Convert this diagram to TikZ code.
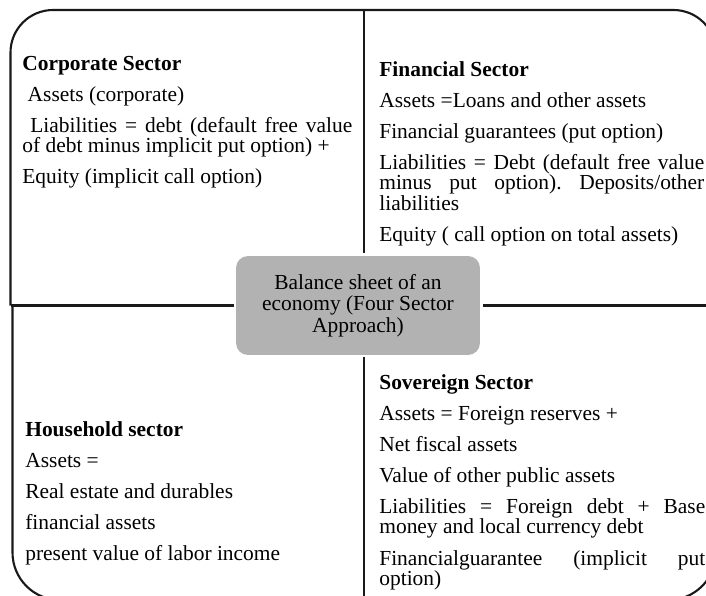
\documentclass[tikz,border=0pt]{standalone}
\usepackage{fontspec}
\setmainfont{Liberation Serif}
\usetikzlibrary{positioning,calc}
\frenchspacing

\begin{document}
\begin{tikzpicture}[x=0.02cm, y=-0.02cm,
    frameline/.style={draw=black!90, line width=1.2pt},
    sectortext/.style={anchor=base west, inner sep=0pt, text width=#1, align=justify,
        font=\fontsize{12.2}{11.7}\selectfont,
        execute at begin node={\setlength{\parskip}{6pt}}},
    hubbox/.style={fill=black!30, rounded corners=0.24cm, minimum width=4.88cm,
        minimum height=1.98cm, inner sep=0pt, align=center,
        font=\fontsize{12.2}{12.2}\selectfont}]
    \useasboundingbox (0,0) rectangle (706,595);

    % centre box
    \node[hubbox] (hub) at (358,305.5) {Balance sheet of an\\economy (Four Sector\\Approach)};

    % frame and dividers
    \coordinate (ntop) at (364,10);
    \coordinate (sbot) at (364,601);
    \coordinate (wmid) at (10.5,305.5);
    \coordinate (emid) at (716,305.5);
    \begin{scope}
        \clip (0,0) rectangle (706,595);
        \draw[frameline, rounded corners=0.85cm] (wmid) -- (10.5,10) -- (716,10) -- (emid);
        \draw[frameline, rounded corners=0.95cm] (emid) -- (716,600) -- (12.5,600) -- (12.5,305.5);
        \draw[frameline, shorten >=0.06cm] (ntop) -- (ntop |- hub.north);
        \draw[frameline, shorten >=0.03cm] (wmid) -- (hub.west);
        \draw[frameline, shorten >=0.06cm] (emid) -- (hub.east);
        \draw[frameline, shorten >=0.04cm] (sbot) -- (sbot |- hub.south);
    \end{scope}

    % corporate sector
    \node[sectortext=6.6cm] (corp) at (22,70) {\textbf{Corporate Sector}\par
        \ Assets (corporate)\par
        \ Liabilities = debt (default free value\linebreak of debt minus implicit put option) +\par
        Equity (implicit call option)};

    % financial sector
    \node[sectortext=6.5cm] (fin) at (379,76) {\textbf{Financial Sector}\par
        Assets =Loans and other assets\par
        Financial guarantees (put option)\par
        Liabilities = Debt (default free value\linebreak minus put option). Deposits/other\linebreak liabilities\par
        Equity ( call option on total assets)};

    % household sector
    \node[sectortext=6.6cm] (house) at (25,436) {\textbf{Household sector}\par
        Assets =\par
        Real estate and durables\par
        financial assets\par
        present value of labor income};

    % sovereign sector
    \node[sectortext=6.52cm] (sov) at (379,389) {\textbf{Sovereign Sector}\par
        Assets = Foreign reserves +\par
        Net fiscal assets\par
        Value of other public assets\par
        Liabilities = Foreign debt + Base\linebreak money and local currency debt\par
        Financialguarantee (implicit put\linebreak option)};
\end{tikzpicture}
\end{document}
